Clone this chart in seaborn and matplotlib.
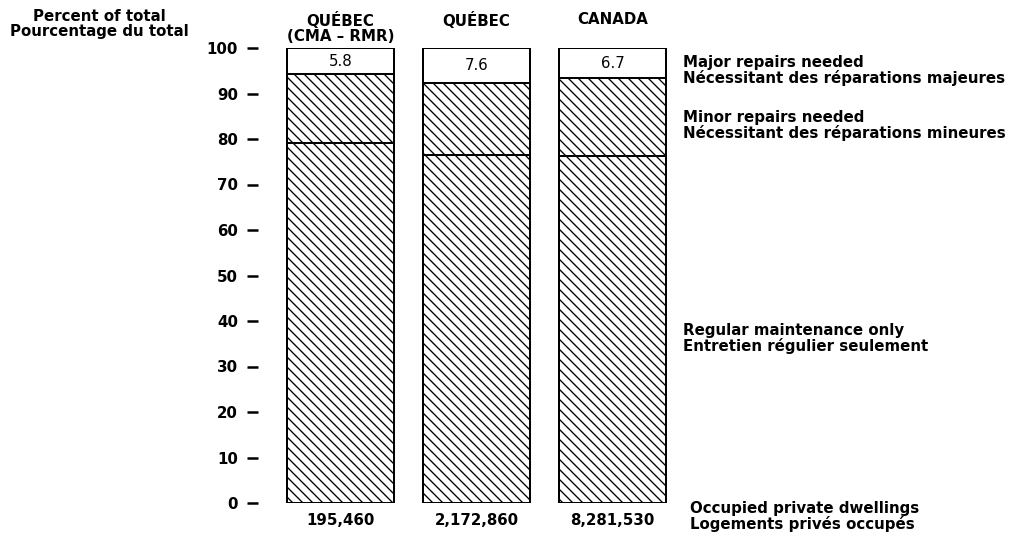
import matplotlib
matplotlib.use("Agg")
import matplotlib.pyplot as plt
import matplotlib.transforms as mtransforms
import seaborn as sns
import pandas as pd

# ---- data ----
categories = ["QUÉBEC\n(CMA – RMR)", "QUÉBEC", "CANADA"]
regular = [79.2, 76.4, 76.3]   # Regular maintenance only
minor = [15.0, 16.0, 17.0]     # Minor repairs needed
major = [5.8, 7.6, 6.7]        # Major repairs needed
dwellings = ["195,460", "2,172,860", "8,281,530"]
y_ticks = [0, 10, 20, 30, 40, 50, 60, 70, 80, 90, 100]

sns.set_style("white")
plt.rcParams["font.family"] = ["DejaVu Sans"]
plt.rcParams["font.weight"] = "bold"
plt.rcParams["text.color"] = "black"
plt.rcParams["xtick.color"] = "black"
plt.rcParams["ytick.color"] = "black"
plt.rcParams["xtick.labelcolor"] = "black"
plt.rcParams["ytick.labelcolor"] = "black"
plt.rcParams["hatch.linewidth"] = 0.8
plt.rcParams["hatch.color"] = "black"

DPI = 120
fig = plt.figure(figsize=(1011 / DPI, 536 / DPI), dpi=DPI)
ax = fig.add_axes([258 / 1011, 33 / 536, 409 / 1011, 455 / 536])

df = pd.DataFrame({
    "cat": categories,
    "total": [r + m + j for r, m, j in zip(regular, minor, major)],
    "reg_min": [r + m for r, m in zip(regular, minor)],
    "reg": regular,
})

w = 107 / 136
HATCH = "\\\\\\\\"
layers = [("total", ""), ("reg_min", HATCH), ("reg", HATCH)]
for col, hatch in layers:
    sns.barplot(data=df, x="cat", y=col, order=categories, color="white",
                saturation=1, edgecolor="black", linewidth=1.2, width=w,
                errorbar=None, ax=ax)
    for p in ax.containers[-1]:
        p.set_hatch(hatch)

fs = 9
# value labels in major segment
for i, (t, j) in enumerate(zip(df["total"], major)):
    ax.text(i, t - j / 2, f"{j:.1f}", ha="center", va="center", fontsize=fs,
            fontweight="normal")

ax.set_xlim(-0.6066, -0.6066 + 409 / 136)
ax.set_ylim(0, 100)
ax.set_yticks(y_ticks)
ax.set_xticks(range(len(categories)), dwellings)
ax.set_xlabel("")
ax.set_ylabel("")
for s in ax.spines.values():
    s.set_visible(False)
ax.tick_params(axis="y", left=True, length=6.6, width=1.5, pad=5.4,
               labelsize=fs, color="black")
ax.tick_params(axis="x", bottom=False, length=0, pad=6.0, labelsize=fs)

# top labels
top_trans = mtransforms.blended_transform_factory(ax.transData, fig.transFigure)
for i, c in enumerate(categories):
    ax.text(i, 1 - 12 / 536, c, transform=top_trans,
            ha="center", va="top", fontsize=fs, linespacing=1.0)

# left title
fig.text(99 / 1011, 1 - 24 / 536, "Percent of total\nPourcentage du total",
         ha="center", va="center", fontsize=fs, linespacing=1.0)

# right labels
trans = mtransforms.blended_transform_factory(ax.transAxes, ax.transData)
right_labels = [
    (95.0, "Major repairs needed\nNécessitant des réparations majeures", 1.039),
    (83.0, "Minor repairs needed\nNécessitant des réparations mineures", 1.039),
    (36.2, "Regular maintenance only\nEntretien régulier seulement", 1.039),
    (-3.0, "Occupied private dwellings\nLogements privés occupés", 1.056),
]
for y, txt, x in right_labels:
    ax.text(x, y, txt, transform=trans, ha="left", va="center", fontsize=fs,
            linespacing=1.0, clip_on=False)

fig.savefig("out.png", dpi=DPI)
